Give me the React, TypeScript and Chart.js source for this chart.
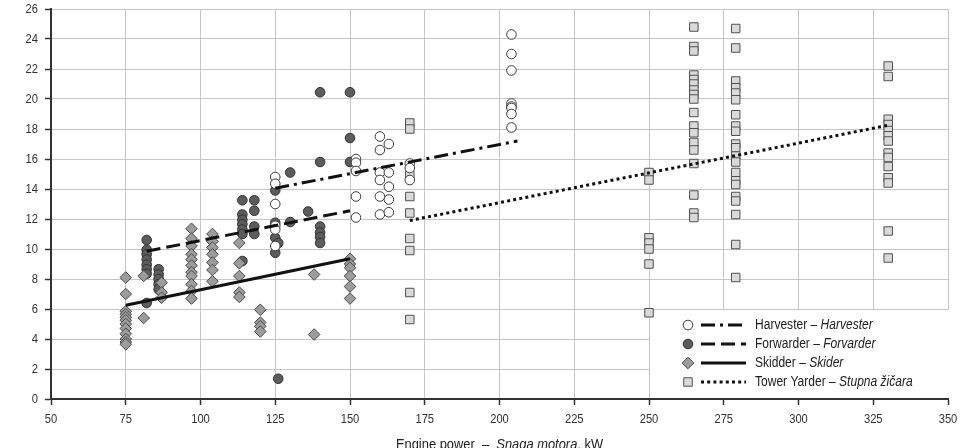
import { useEffect, useRef } from "react";
import { Chart, registerables } from "chart.js";

Chart.register(...registerables);

const FONT = "'Liberation Sans', Arial, sans-serif";
// Horizontal squeeze used to give the Arial-like face a condensed look
const NARROW = 0.86;

// Engine power (kW) with the measured values at that power
const harvesterGroups: [number, number[]][] = [
  [125, [14.8, 14.35, 13.0, 11.55, 11.3, 10.2]],
  [152, [16.0, 15.75, 15.2, 13.5, 12.1]],
  [160, [17.5, 16.6, 15.1, 14.6, 13.5, 12.3]],
  [163, [17.0, 15.1, 14.15, 13.3, 12.45]],
  [170, [15.7, 15.4, 14.6]],
  [204, [24.3, 23.0, 21.9, 19.7, 19.5, 19.4, 19.0, 18.1]],
];

const forwarderGroups: [number, number[]][] = [
  [82, [10.6, 9.95, 9.65, 9.3, 8.95, 8.65, 8.35, 6.4]],
  [86, [8.65, 8.3, 8.0, 7.65, 7.3]],
  [114, [13.25, 12.3, 11.95, 11.65, 11.3, 11.0, 9.2]],
  [118, [13.25, 12.55, 11.5, 11.0]],
  [125, [13.9, 11.75, 10.75, 9.75]],
  [126, [10.4, 1.35]],
  [130, [15.1, 11.8]],
  [136, [12.5]],
  [140, [20.45, 15.8, 11.5, 11.1, 10.8, 10.4]],
  [150, [20.45, 17.4, 15.8]],
];

const skidderGroups: [number, number[]][] = [
  [75, [8.1, 7.0, 5.85, 5.65, 5.45, 5.25, 5.0, 4.7, 4.35, 4.0, 3.8, 3.65]],
  [81, [8.2, 5.4]],
  [87, [7.75, 7.1, 6.75]],
  [97, [11.35, 10.7, 10.2, 9.65, 9.3, 8.9, 8.45, 8.2, 7.65, 7.2, 6.7]],
  [104, [11.0, 10.5, 10.1, 9.65, 9.1, 8.6, 7.85]],
  [113, [10.4, 9.05, 8.2, 7.1, 6.8]],
  [120, [5.95, 5.1, 4.85, 4.5]],
  [138, [8.3, 4.3]],
  [150, [9.35, 9.0, 8.75, 8.2, 7.5, 6.7]],
];

const towerYarderGroups: [number, number[]][] = [
  [170, [18.4, 18.0, 14.9, 13.5, 12.4, 10.7, 9.9, 7.1, 5.3]],
  [250, [15.1, 14.6, 10.75, 10.4, 10.0, 9.0, 5.75]],
  [265, [24.8, 23.5, 23.2, 21.6, 21.3, 21.0, 20.6, 20.3, 20.0, 19.1, 18.2, 17.75, 17.1, 16.6, 15.7, 13.6, 12.4, 12.1]],
  [279, [24.7, 23.4, 21.2, 20.75, 20.4, 19.95, 18.95, 18.2, 17.85, 17.0, 16.75, 16.2, 15.8, 15.1, 14.55, 14.3, 13.5, 13.2, 12.3, 10.3, 8.1]],
  [330, [22.2, 21.5, 18.65, 18.3, 17.9, 17.55, 17.2, 16.4, 16.1, 15.5, 14.75, 14.4, 11.2, 9.4]],
];

// Trend line end points [kW, value]
const harvesterTrend: [number, number][] = [[125, 14.05], [206, 17.2]];
const forwarderTrend: [number, number][] = [[82, 9.85], [150, 12.55]];
const skidderTrend: [number, number][] = [[75, 6.25], [150, 9.35]];
const towerYarderTrend: [number, number][] = [[170, 11.9], [330, 18.25]];

const xTicks = [50, 75, 100, 125, 150, 175, 200, 225, 250, 275, 300, 325, 350];
const yTicks = [0, 2, 4, 6, 8, 10, 12, 14, 16, 18, 20, 22, 24, 26];

const legendNames: [string, string][] = [
  ["Harvester – ", "Harvester"],
  ["Forwarder – ", "Forvarder"],
  ["Skidder – ", "Skider"],
  ["Tower Yarder – ", "Stupna žičara"],
];

const xTitle: [string, string, string] = ["Engine power  –  ", "Snaga motora", ", kW"];

const toPoints = (groups: [number, number[]][]) =>
  groups.flatMap(([x, ys]) => ys.map((y) => ({ x, y })));
const toLine = (pts: [number, number][]) => pts.map(([x, y]) => ({ x, y }));

const markerStyles = [
  { style: "circle", fill: "#ffffff", stroke: "#3a3a3a", radius: 4.8 },
  { style: "circle", fill: "#5c5c5c", stroke: "#333333", radius: 4.8 },
  { style: "rectRot", fill: "#9c9c9c", stroke: "#4a4a4a", radius: 5.8 },
  { style: "rect", fill: "#d9d9d9", stroke: "#505050", radius: 6 },
];
const lineDashes = [[14, 5, 3, 5], [14, 6], [], [3, 3.2]];

function drawMarker(ctx: CanvasRenderingContext2D, kind: number, x: number, y: number) {
  const m = markerStyles[kind];
  ctx.save();
  ctx.fillStyle = m.fill;
  ctx.strokeStyle = m.stroke;
  ctx.lineWidth = 1;
  ctx.beginPath();
  if (m.style === "circle") {
    ctx.arc(x, y, m.radius, 0, Math.PI * 2);
  } else if (m.style === "rectRot") {
    ctx.moveTo(x, y - m.radius);
    ctx.lineTo(x + m.radius, y);
    ctx.lineTo(x, y + m.radius);
    ctx.lineTo(x - m.radius, y);
    ctx.closePath();
  } else {
    const s = m.radius * Math.SQRT1_2;
    ctx.rect(x - s, y - s, 2 * s, 2 * s);
  }
  ctx.fill();
  ctx.stroke();
  ctx.restore();
}

// Text drawn with a horizontal squeeze; align is applied to the squeezed width
function narrowText(
  ctx: CanvasRenderingContext2D,
  text: string,
  x: number,
  y: number,
  align: CanvasTextAlign,
) {
  ctx.save();
  ctx.translate(x, y);
  ctx.scale(NARROW, 1);
  ctx.textAlign = align;
  ctx.fillText(text, 0, 0);
  ctx.restore();
}

const legendPlugin = {
  id: "boxLegend",
  beforeDatasetsDraw(chart: any) {
    const { ctx, chartArea, scales } = chart;
    const left = scales.x.getPixelForValue(250) + 1;
    const right = chartArea.right + 1;
    const top = scales.y.getPixelForValue(6) + 1;
    const bottom = chartArea.bottom - 1;
    ctx.save();
    ctx.fillStyle = "#ffffff";
    ctx.fillRect(left, top, right - left, bottom - top);
    legendNames.forEach(([plain, italic], i) => {
      const cy = top + 15 + i * 19;
      drawMarker(ctx, i, left + 38, cy);
      ctx.save();
      ctx.strokeStyle = "#111111";
      ctx.lineWidth = 3;
      ctx.setLineDash(lineDashes[i]);
      ctx.beginPath();
      ctx.moveTo(left + 51, cy);
      ctx.lineTo(left + 96, cy);
      ctx.stroke();
      ctx.restore();
      ctx.fillStyle = "#222222";
      ctx.textBaseline = "middle";
      ctx.font = `14px ${FONT}`;
      const tx = left + 105;
      narrowText(ctx, plain, tx, cy, "left");
      const w = ctx.measureText(plain).width * NARROW;
      ctx.font = `italic 14px ${FONT}`;
      narrowText(ctx, italic, tx + w, cy, "left");
    });
    ctx.restore();
  },
};

const axisTextPlugin = {
  id: "axisText",
  afterDraw(chart: any) {
    const { ctx, chartArea, scales } = chart;
    ctx.save();
    ctx.fillStyle = "#333333";
    ctx.textBaseline = "middle";
    ctx.font = `13px ${FONT}`;
    xTicks.forEach((v) => {
      narrowText(ctx, String(v), scales.x.getPixelForValue(v), chartArea.bottom + 20, "center");
    });
    yTicks.forEach((v) => {
      narrowText(ctx, String(v), chartArea.left - 13, scales.y.getPixelForValue(v), "right");
    });

    ctx.fillStyle = "#222222";
    ctx.textBaseline = "alphabetic";
    const fonts = [`15px ${FONT}`, `italic 15px ${FONT}`, `15px ${FONT}`];
    const widths = xTitle.map((t, i) => {
      ctx.font = fonts[i];
      return ctx.measureText(t).width * NARROW;
    });
    const total = widths.reduce((a, b) => a + b, 0);
    let x = (chartArea.left + chartArea.right) / 2 - total / 2;
    const y = chartArea.bottom + 50;
    xTitle.forEach((t, i) => {
      ctx.font = fonts[i];
      narrowText(ctx, t, x, y, "left");
      x += widths[i];
    });
    ctx.restore();
  },
};

export default function App() {
  const canvasRef = useRef<HTMLCanvasElement>(null);

  useEffect(() => {
    if (!canvasRef.current) return;
    const trend = (data: [number, number][], i: number) => ({
      type: "line" as const,
      data: toLine(data),
      showLine: true,
      borderColor: "#111111",
      borderWidth: 3,
      borderDash: lineDashes[i],
      borderCapStyle: "butt" as const,
      pointRadius: 0,
      fill: false,
      order: 0,
    });
    const markers = (groups: [number, number[]][], i: number, order: number) => ({
      data: toPoints(groups),
      pointStyle: markerStyles[i].style,
      pointRadius: markerStyles[i].radius,
      backgroundColor: markerStyles[i].fill,
      borderColor: markerStyles[i].stroke,
      borderWidth: 1,
      showLine: false,
      order,
    });

    const chart = new Chart(canvasRef.current, {
      type: "scatter",
      data: {
        datasets: [
          trend(harvesterTrend, 0),
          trend(forwarderTrend, 1),
          trend(skidderTrend, 2),
          trend(towerYarderTrend, 3),
          markers(skidderGroups, 2, 1),
          markers(harvesterGroups, 0, 2),
          markers(towerYarderGroups, 3, 3),
          markers(forwarderGroups, 1, 4),
        ] as any,
      },
      plugins: [legendPlugin, axisTextPlugin],
      options: {
        animation: false,
        responsive: false,
        maintainAspectRatio: false,
        layout: { padding: { top: 9, right: 14, left: 0, bottom: 0 } },
        plugins: { legend: { display: false }, tooltip: { enabled: false } },
        scales: {
          x: {
            type: "linear",
            min: xTicks[0],
            max: xTicks[xTicks.length - 1],
            afterBuildTicks: (s: any) => {
              s.ticks = xTicks.map((v) => ({ value: v }));
            },
            afterFit: (s: any) => {
              s.height = 49;
            },
            ticks: { display: false },
            grid: { color: "#c6c6c6", lineWidth: 1, tickColor: "#333333", tickLength: 6, tickWidth: 1.5 },
            border: { color: "#333333", width: 2 },
          },
          y: {
            type: "linear",
            min: yTicks[0],
            max: yTicks[yTicks.length - 1],
            afterBuildTicks: (s: any) => {
              s.ticks = yTicks.map((v) => ({ value: v }));
            },
            afterFit: (s: any) => {
              s.width = 51;
            },
            ticks: { display: false },
            grid: { color: "#c6c6c6", lineWidth: 1, tickColor: "#333333", tickLength: 6, tickWidth: 1.5 },
            border: { color: "#333333", width: 2 },
          },
        },
      },
    });
    return () => chart.destroy();
  }, []);

  return (
    <div style={{ position: "fixed", left: 0, top: 0, width: 962, height: 448, overflow: "hidden", background: "#fff" }}>
      <canvas ref={canvasRef} width={962} height={448} style={{ display: "block", width: 962, height: 448 }} />
    </div>
  );
}
